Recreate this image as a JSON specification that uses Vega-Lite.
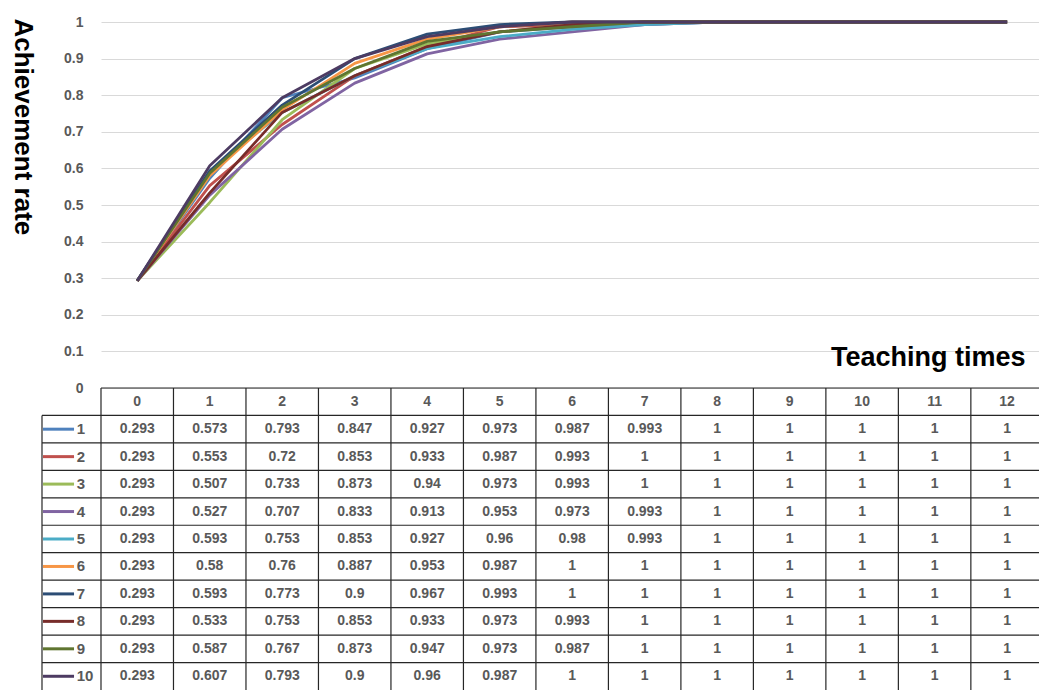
{
  "$schema": "https://vega.github.io/schema/vega-lite/v6.json",
  "width": 938,
  "height": 668,
  "autosize": {"type": "none"},
  "padding": {"left": 101, "top": 22, "right": 0, "bottom": 0},
  "background": "white",
  "config": {
    "view": {"stroke": null},
    "font": "Liberation Sans",
    "axisX": {
      "labels": false, "ticks": false, "domain": false, "grid": false,
      "titleX": 924, "titleY": -325, "titleAlign": "right", "titleBaseline": "alphabetic",
      "titleAnchor": null, "titleFont": "Liberation Sans", "titleFontSize": 27,
      "titleFontWeight": "bold", "titleColor": "#000000"
    }
  },
  "datasets": {
    "rates": [
      {"run": 1, "time": 0, "rate": 0.293}, {"run": 1, "time": 1, "rate": 0.573}, {"run": 1, "time": 2, "rate": 0.793}, {"run": 1, "time": 3, "rate": 0.847}, {"run": 1, "time": 4, "rate": 0.927}, {"run": 1, "time": 5, "rate": 0.973}, {"run": 1, "time": 6, "rate": 0.987}, {"run": 1, "time": 7, "rate": 0.993}, {"run": 1, "time": 8, "rate": 1}, {"run": 1, "time": 9, "rate": 1}, {"run": 1, "time": 10, "rate": 1}, {"run": 1, "time": 11, "rate": 1}, {"run": 1, "time": 12, "rate": 1},
      {"run": 2, "time": 0, "rate": 0.293}, {"run": 2, "time": 1, "rate": 0.553}, {"run": 2, "time": 2, "rate": 0.72}, {"run": 2, "time": 3, "rate": 0.853}, {"run": 2, "time": 4, "rate": 0.933}, {"run": 2, "time": 5, "rate": 0.987}, {"run": 2, "time": 6, "rate": 0.993}, {"run": 2, "time": 7, "rate": 1}, {"run": 2, "time": 8, "rate": 1}, {"run": 2, "time": 9, "rate": 1}, {"run": 2, "time": 10, "rate": 1}, {"run": 2, "time": 11, "rate": 1}, {"run": 2, "time": 12, "rate": 1},
      {"run": 3, "time": 0, "rate": 0.293}, {"run": 3, "time": 1, "rate": 0.507}, {"run": 3, "time": 2, "rate": 0.733}, {"run": 3, "time": 3, "rate": 0.873}, {"run": 3, "time": 4, "rate": 0.94}, {"run": 3, "time": 5, "rate": 0.973}, {"run": 3, "time": 6, "rate": 0.993}, {"run": 3, "time": 7, "rate": 1}, {"run": 3, "time": 8, "rate": 1}, {"run": 3, "time": 9, "rate": 1}, {"run": 3, "time": 10, "rate": 1}, {"run": 3, "time": 11, "rate": 1}, {"run": 3, "time": 12, "rate": 1},
      {"run": 4, "time": 0, "rate": 0.293}, {"run": 4, "time": 1, "rate": 0.527}, {"run": 4, "time": 2, "rate": 0.707}, {"run": 4, "time": 3, "rate": 0.833}, {"run": 4, "time": 4, "rate": 0.913}, {"run": 4, "time": 5, "rate": 0.953}, {"run": 4, "time": 6, "rate": 0.973}, {"run": 4, "time": 7, "rate": 0.993}, {"run": 4, "time": 8, "rate": 1}, {"run": 4, "time": 9, "rate": 1}, {"run": 4, "time": 10, "rate": 1}, {"run": 4, "time": 11, "rate": 1}, {"run": 4, "time": 12, "rate": 1},
      {"run": 5, "time": 0, "rate": 0.293}, {"run": 5, "time": 1, "rate": 0.593}, {"run": 5, "time": 2, "rate": 0.753}, {"run": 5, "time": 3, "rate": 0.853}, {"run": 5, "time": 4, "rate": 0.927}, {"run": 5, "time": 5, "rate": 0.96}, {"run": 5, "time": 6, "rate": 0.98}, {"run": 5, "time": 7, "rate": 0.993}, {"run": 5, "time": 8, "rate": 1}, {"run": 5, "time": 9, "rate": 1}, {"run": 5, "time": 10, "rate": 1}, {"run": 5, "time": 11, "rate": 1}, {"run": 5, "time": 12, "rate": 1},
      {"run": 6, "time": 0, "rate": 0.293}, {"run": 6, "time": 1, "rate": 0.58}, {"run": 6, "time": 2, "rate": 0.76}, {"run": 6, "time": 3, "rate": 0.887}, {"run": 6, "time": 4, "rate": 0.953}, {"run": 6, "time": 5, "rate": 0.987}, {"run": 6, "time": 6, "rate": 1}, {"run": 6, "time": 7, "rate": 1}, {"run": 6, "time": 8, "rate": 1}, {"run": 6, "time": 9, "rate": 1}, {"run": 6, "time": 10, "rate": 1}, {"run": 6, "time": 11, "rate": 1}, {"run": 6, "time": 12, "rate": 1},
      {"run": 7, "time": 0, "rate": 0.293}, {"run": 7, "time": 1, "rate": 0.593}, {"run": 7, "time": 2, "rate": 0.773}, {"run": 7, "time": 3, "rate": 0.9}, {"run": 7, "time": 4, "rate": 0.967}, {"run": 7, "time": 5, "rate": 0.993}, {"run": 7, "time": 6, "rate": 1}, {"run": 7, "time": 7, "rate": 1}, {"run": 7, "time": 8, "rate": 1}, {"run": 7, "time": 9, "rate": 1}, {"run": 7, "time": 10, "rate": 1}, {"run": 7, "time": 11, "rate": 1}, {"run": 7, "time": 12, "rate": 1},
      {"run": 8, "time": 0, "rate": 0.293}, {"run": 8, "time": 1, "rate": 0.533}, {"run": 8, "time": 2, "rate": 0.753}, {"run": 8, "time": 3, "rate": 0.853}, {"run": 8, "time": 4, "rate": 0.933}, {"run": 8, "time": 5, "rate": 0.973}, {"run": 8, "time": 6, "rate": 0.993}, {"run": 8, "time": 7, "rate": 1}, {"run": 8, "time": 8, "rate": 1}, {"run": 8, "time": 9, "rate": 1}, {"run": 8, "time": 10, "rate": 1}, {"run": 8, "time": 11, "rate": 1}, {"run": 8, "time": 12, "rate": 1},
      {"run": 9, "time": 0, "rate": 0.293}, {"run": 9, "time": 1, "rate": 0.587}, {"run": 9, "time": 2, "rate": 0.767}, {"run": 9, "time": 3, "rate": 0.873}, {"run": 9, "time": 4, "rate": 0.947}, {"run": 9, "time": 5, "rate": 0.973}, {"run": 9, "time": 6, "rate": 0.987}, {"run": 9, "time": 7, "rate": 1}, {"run": 9, "time": 8, "rate": 1}, {"run": 9, "time": 9, "rate": 1}, {"run": 9, "time": 10, "rate": 1}, {"run": 9, "time": 11, "rate": 1}, {"run": 9, "time": 12, "rate": 1},
      {"run": 10, "time": 0, "rate": 0.293}, {"run": 10, "time": 1, "rate": 0.607}, {"run": 10, "time": 2, "rate": 0.793}, {"run": 10, "time": 3, "rate": 0.9}, {"run": 10, "time": 4, "rate": 0.96}, {"run": 10, "time": 5, "rate": 0.987}, {"run": 10, "time": 6, "rate": 1}, {"run": 10, "time": 7, "rate": 1}, {"run": 10, "time": 8, "rate": 1}, {"run": 10, "time": 9, "rate": 1}, {"run": 10, "time": 10, "rate": 1}, {"run": 10, "time": 11, "rate": 1}, {"run": 10, "time": 12, "rate": 1}
    ]
  },
  "resolve": {"scale": {"y": "independent"}},
  "layer": [
    {
      "data": {"name": "rates"},
      "mark": {"type": "line", "strokeWidth": 2.8, "strokeJoin": "round"},
      "encoding": {
        "x": {"field": "time", "type": "quantitative", "title": "Teaching times",
              "scale": {"domain": [-0.5, 12.44], "nice": false, "zero": false}},
        "y": {"field": "rate", "type": "quantitative",
              "scale": {"domain": [-0.8251, 1], "nice": false, "zero": false},
              "axis": {
                "values": [0, 0.1, 0.2, 0.3, 0.4, 0.5, 0.6, 0.7, 0.8, 0.9, 1],
                "format": "~g", "domain": false, "ticks": false,
                "grid": true, "gridColor": "#d9d9d9", "gridWidth": 1,
                "labelFont": "Liberation Sans", "labelFontSize": 14, "labelFontWeight": "bold",
                "labelColor": "#595959", "labelPadding": 18,
                "title": "Achievement rate", "titleFont": "Liberation Sans", "titleFontSize": 26,
                "titleFontWeight": "bold", "titleColor": "#000000", "titleAngle": 90,
                "titleX": -79, "titleY": -4, "titleAlign": "left", "titleBaseline": "middle"
              }},
        "color": {"field": "run", "type": "nominal", "legend": null,
                  "scale": {"domain": [1, 2, 3, 4, 5, 6, 7, 8, 9, 10],
                            "range": ["#4F81BD", "#C0504D", "#9BBB59", "#8064A2", "#4BACC6", "#F79646", "#2C4D75", "#772C2A", "#5F7530", "#4D3B62"]}}
      }
    },
    {
      "layer": [
        {
          "data": {"name": "rates"},
          "transform": [{"filter": "datum.run == 1"}],
          "mark": {"type": "rule", "color": "#262626", "strokeWidth": 1.2, "xOffset": -36.25},
          "encoding": {
            "x": {"field": "time", "type": "quantitative", "title": "Teaching times",
                  "scale": {"domain": [-0.5, 12.44], "nice": false, "zero": false}},
            "y": {"datum": -0.5, "type": "quantitative", "axis": null,
                  "scale": {"domain": [-0.5, 10.5], "range": [366, 668], "nice": false, "zero": false}},
            "y2": {"datum": 10.5}
          }
        },
        {
          "data": {"name": "rates"},
          "transform": [{"filter": "datum.run == 1 && datum.time == 0"}],
          "mark": {"type": "rule", "color": "#262626", "strokeWidth": 1.2},
          "encoding": {
            "x": {"datum": -1.314, "type": "quantitative", "title": "Teaching times",
                  "scale": {"domain": [-0.5, 12.44], "nice": false, "zero": false}},
            "y": {"datum": 0.5, "type": "quantitative", "axis": null,
                  "scale": {"domain": [-0.5, 10.5], "range": [366, 668], "nice": false, "zero": false}},
            "y2": {"datum": 10.5}
          }
        },
        {
          "data": {"name": "rates"},
          "transform": [{"filter": "datum.run == 1 && datum.time == 0"}],
          "mark": {"type": "rule", "color": "#262626", "strokeWidth": 1.2},
          "encoding": {
            "x": {"datum": -0.5, "type": "quantitative", "title": "Teaching times",
                  "scale": {"domain": [-0.5, 12.44], "nice": false, "zero": false}},
            "x2": {"datum": 12.5},
            "y": {"datum": -0.5, "type": "quantitative", "axis": null,
                  "scale": {"domain": [-0.5, 10.5], "range": [366, 668], "nice": false, "zero": false}}
          }
        },
        {
          "data": {"name": "rates"},
          "transform": [{"filter": "datum.time == 0"}],
          "mark": {"type": "rule", "color": "#262626", "strokeWidth": 1.2, "yOffset": -13.73},
          "encoding": {
            "x": {"datum": -1.314, "type": "quantitative", "title": "Teaching times",
                  "scale": {"domain": [-0.5, 12.44], "nice": false, "zero": false}},
            "x2": {"datum": 12.5},
            "y": {"field": "run", "type": "quantitative", "axis": null,
                  "scale": {"domain": [-0.5, 10.5], "range": [366, 668], "nice": false, "zero": false}}
          }
        },
        {
          "data": {"name": "rates"},
          "mark": {"type": "text", "font": "Liberation Sans", "fontSize": 14, "fontWeight": "bold",
                   "color": "#595959", "align": "center", "baseline": "middle"},
          "encoding": {
            "x": {"field": "time", "type": "quantitative", "title": "Teaching times",
                  "scale": {"domain": [-0.5, 12.44], "nice": false, "zero": false}},
            "y": {"field": "run", "type": "quantitative", "axis": null,
                  "scale": {"domain": [-0.5, 10.5], "range": [366, 668], "nice": false, "zero": false}},
            "text": {"field": "rate", "type": "quantitative", "format": "~g"}
          }
        },
        {
          "data": {"name": "rates"},
          "transform": [{"filter": "datum.run == 1"}],
          "mark": {"type": "text", "font": "Liberation Sans", "fontSize": 14, "fontWeight": "bold",
                   "color": "#595959", "align": "center", "baseline": "middle"},
          "encoding": {
            "x": {"field": "time", "type": "quantitative", "title": "Teaching times",
                  "scale": {"domain": [-0.5, 12.44], "nice": false, "zero": false}},
            "y": {"datum": 0, "type": "quantitative", "axis": null,
                  "scale": {"domain": [-0.5, 10.5], "range": [366, 668], "nice": false, "zero": false}},
            "text": {"field": "time", "type": "quantitative"}
          }
        },
        {
          "data": {"name": "rates"},
          "transform": [{"filter": "datum.time == 0"}],
          "mark": {"type": "rule", "strokeWidth": 3},
          "encoding": {
            "x": {"datum": -1.3, "type": "quantitative", "title": "Teaching times",
                  "scale": {"domain": [-0.5, 12.44], "nice": false, "zero": false}},
            "x2": {"datum": -0.872},
            "y": {"field": "run", "type": "quantitative", "axis": null,
                  "scale": {"domain": [-0.5, 10.5], "range": [366, 668], "nice": false, "zero": false}},
            "color": {"field": "run", "type": "nominal", "legend": null}
          }
        },
        {
          "data": {"name": "rates"},
          "transform": [{"filter": "datum.time == 0"}],
          "mark": {"type": "text", "font": "Liberation Sans", "fontSize": 15, "fontWeight": "bold",
                   "color": "#595959", "align": "left", "baseline": "middle"},
          "encoding": {
            "x": {"datum": -0.835, "type": "quantitative", "title": "Teaching times",
                  "scale": {"domain": [-0.5, 12.44], "nice": false, "zero": false}},
            "y": {"field": "run", "type": "quantitative", "axis": null,
                  "scale": {"domain": [-0.5, 10.5], "range": [366, 668], "nice": false, "zero": false}},
            "text": {"field": "run", "type": "quantitative"}
          }
        }
      ]
    }
  ]
}
